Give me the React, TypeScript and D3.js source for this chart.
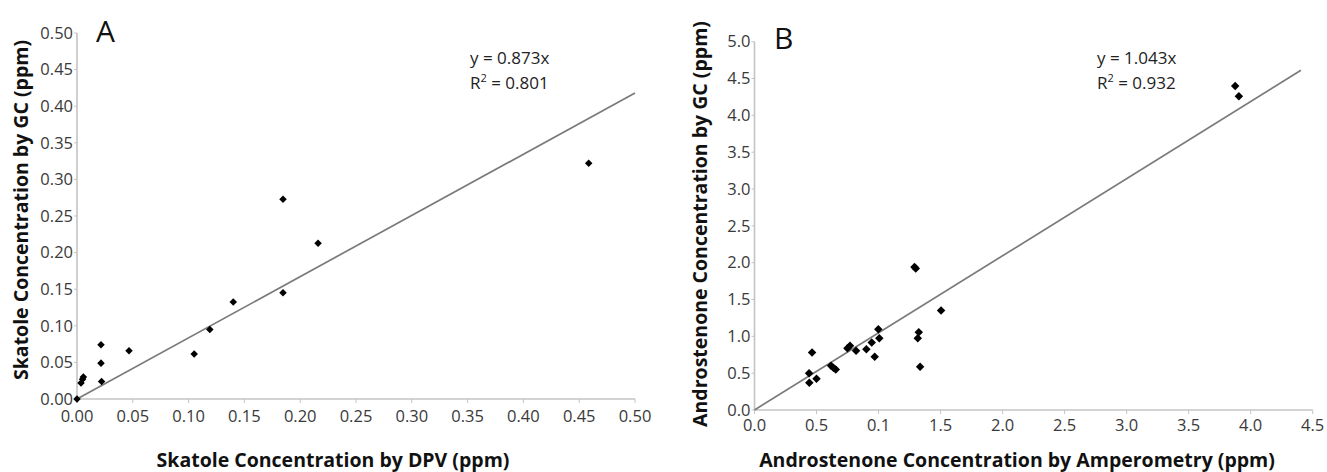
import React from "react";
import * as d3 from "d3";

// ---- Panel A data (Skatole) ----
const skatoleDPV = [0, 0.0036, 0.005, 0.0057, 0.0215, 0.0215, 0.022, 0.0466, 0.105, 0.119, 0.14, 0.1846, 0.216, 0.1846, 0.4585];
const skatoleGC = [0, 0.022, 0.027, 0.03, 0.074, 0.049, 0.024, 0.066, 0.0615, 0.095, 0.1325, 0.145, 0.2127, 0.273, 0.322];
const trendAX = [0, 0.5];
const trendAY = [0, 0.418];
const ticksA = [0, 0.05, 0.1, 0.15, 0.2, 0.25, 0.3, 0.35, 0.4, 0.45, 0.5];

// ---- Panel B data (Androstenone) ----
const androAmp = [0.44, 0.442, 0.464, 0.5, 0.617, 0.636, 0.655, 0.749, 0.77, 0.819, 0.902, 0.945, 0.969, 0.998, 1.006, 1.29, 1.3, 1.316, 1.324, 1.335, 1.504, 3.875, 3.905];
const androGC = [0.5, 0.37, 0.78, 0.425, 0.6, 0.575, 0.55, 0.837, 0.872, 0.805, 0.824, 0.918, 0.723, 1.095, 0.973, 1.94, 1.92, 0.973, 1.054, 0.588, 1.35, 4.4, 4.26];
const trendBX = [0, 4.405];
const trendBY = [0, 4.613];
const yTicksB = [0, 0.5, 1, 1.5, 2, 2.5, 3, 3.5, 4, 4.5, 5];
const xTicksB = [0, 0.5, 1, 1.5, 2, 2.5, 3, 3.5, 4, 4.5];
const xTickLabelsB = ["0.0", "0.5", "0.1", "1.5", "2.0", "2.5", "3.0", "3.5", "4.0", "4.5"];

const FONT = "'Open Sans', 'Liberation Sans', sans-serif";
const AXIS = "#c4c4c4";
const TICKTXT = "#3a3a3a";
const TICK_FS = 16.5;

type PanelProps = {
  x: d3.ScaleLinear<number, number>;
  y: d3.ScaleLinear<number, number>;
  xs: number[];
  ys: number[];
  tx: number[];
  ty: number[];
  xTicks: number[];
  xLabels: string[];
  yTicks: number[];
  yLabels: string[];
  xLabelGap: number;
  markerSize: number;
  letter: string;
  letterPos: [number, number];
  eq: string;
  r2: string;
  eqPos: [number, number];
  xTitle: string;
  xTitlePos: [number, number];
  yTitle: string;
  yTitlePos: [number, number];
};

function Panel(p: PanelProps) {
  const [x0, x1] = p.x.range();
  const [y0, y1] = p.y.range();
  const sym = d3.symbol(d3.symbolDiamond2, p.markerSize)()!;
  const line = d3
    .line<number>()
    .x((_, i) => p.x(p.tx[i]))
    .y((_, i) => p.y(p.ty[i]))(p.tx)!;
  return (
    <g>
      {/* axes */}
      <line x1={x0} x2={x0} y1={y0} y2={y1} stroke={AXIS} strokeWidth={1.6} />
      <line x1={x0} x2={x1} y1={y0} y2={y0} stroke={AXIS} strokeWidth={1.6} />
      {p.yTicks.map((t, i) => (
        <g key={"y" + i}>
          <line x1={x0 - 3} x2={x0} y1={p.y(t)} y2={p.y(t)} stroke={AXIS} strokeWidth={1} />
          <text x={x0 - 4} y={p.y(t)} dy="0.35em" textAnchor="end" fontFamily={FONT} fontSize={TICK_FS} fill={TICKTXT}>
            {p.yLabels[i]}
          </text>
        </g>
      ))}
      {p.xTicks.map((t, i) => (
        <g key={"x" + i}>
          <line x1={p.x(t)} x2={p.x(t)} y1={y0} y2={y0 + 4} stroke={AXIS} strokeWidth={1} />
          <text x={p.x(t)} y={y0 + p.xLabelGap} dy="0.72em" textAnchor="middle" fontFamily={FONT} fontSize={TICK_FS} fill={TICKTXT}>
            {p.xLabels[i]}
          </text>
        </g>
      ))}
      {/* trend line */}
      <path d={line} fill="none" stroke="#7a7a7a" strokeWidth={1.7} />
      {/* points */}
      {p.xs.map((v, i) => (
        <path key={"p" + i} d={sym} transform={`translate(${p.x(v)},${p.y(p.ys[i])})`} fill="#000" />
      ))}
      {/* panel letter */}
      <text x={p.letterPos[0]} y={p.letterPos[1]} fontFamily={FONT} fontSize={30} fill="#111">
        {p.letter}
      </text>
      {/* equation */}
      <text x={p.eqPos[0]} y={p.eqPos[1]} fontFamily={FONT} fontSize={17} fill="#222">
        {p.eq}
      </text>
      <text x={p.eqPos[0]} y={p.eqPos[1] + 25} fontFamily={FONT} fontSize={17} fill="#222">
        R<tspan dy={-7} fontSize={11}>2</tspan>
        <tspan dy={7}>{" = " + p.r2}</tspan>
      </text>
      {/* titles */}
      <text x={p.xTitlePos[0]} y={p.xTitlePos[1]} textAnchor="middle" fontFamily={FONT} fontWeight="bold" fontSize={19.5} fill="#111">
        {p.xTitle}
      </text>
      <text
        transform={`translate(${p.yTitlePos[0]},${p.yTitlePos[1]}) rotate(-90)`}
        textAnchor="middle"
        fontFamily={FONT}
        fontWeight="bold"
        fontSize={19.5}
        fill="#111"
      >
        {p.yTitle}
      </text>
    </g>
  );
}

export default function App() {
  const xA = d3.scaleLinear().domain([0, 0.5]).range([77, 635]);
  const yA = d3.scaleLinear().domain([0, 0.5]).range([399, 33]);
  const xB = d3.scaleLinear().domain([0, 4.5]).range([754.5, 1312.7]);
  const yB = d3.scaleLinear().domain([0, 5]).range([410, 41.7]);
  const fA = d3.format(".2f");
  const fB = d3.format(".1f");
  return (
    <svg width={1327} height={472} style={{ position: "absolute", left: 0, top: 0, background: "#fff" }}>
      <rect width={1327} height={472} fill="#fff" />
      <Panel
        x={xA}
        y={yA}
        xs={skatoleDPV}
        ys={skatoleGC}
        tx={trendAX}
        ty={trendAY}
        xTicks={ticksA}
        xLabels={ticksA.map(fA)}
        yTicks={ticksA}
        yLabels={ticksA.map(fA)}
        xLabelGap={11}
        markerSize={36}
        letter="A"
        letterPos={[96, 42]}
        eq="y = 0.873x"
        r2="0.801"
        eqPos={[470, 64]}
        xTitle="Skatole Concentration by DPV (ppm)"
        xTitlePos={[333, 467]}
        yTitle="Skatole Concentration by GC (ppm)"
        yTitlePos={[28, 210]}
      />
      <Panel
        x={xB}
        y={yB}
        xs={androAmp}
        ys={androGC}
        tx={trendBX}
        ty={trendBY}
        xTicks={xTicksB}
        xLabels={xTickLabelsB}
        yTicks={yTicksB}
        yLabels={yTicksB.map(fB)}
        xLabelGap={9}
        markerSize={46}
        letter="B"
        letterPos={[774, 49]}
        eq="y = 1.043x"
        r2="0.932"
        eqPos={[1097, 64]}
        xTitle="Androstenone Concentration by Amperometry (ppm)"
        xTitlePos={[1017, 467]}
        yTitle="Androstenone Concentration by GC (ppm)"
        yTitlePos={[707, 224]}
      />
    </svg>
  );
}
